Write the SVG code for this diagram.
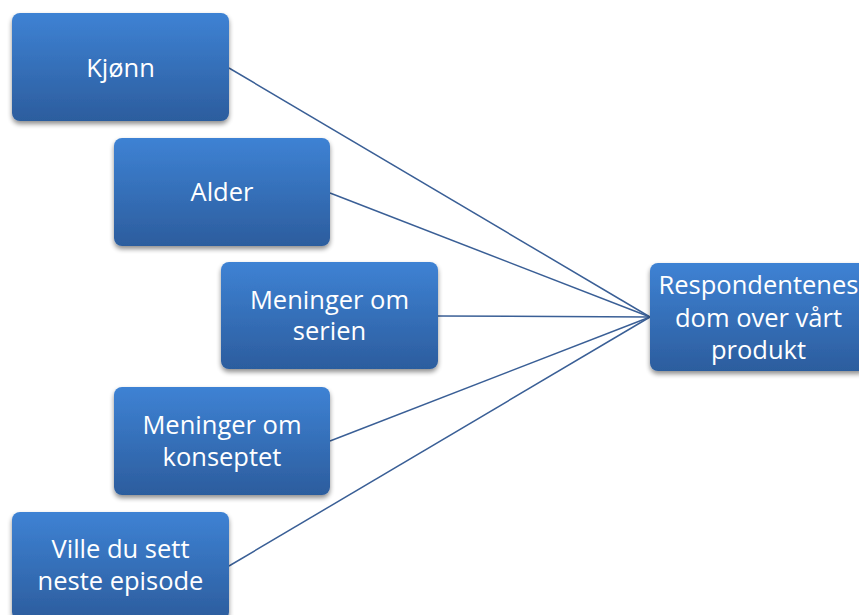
<svg xmlns="http://www.w3.org/2000/svg" width="859" height="615" viewBox="0 0 859 615">
<defs>
<linearGradient id="g" x1="0" y1="0" x2="0" y2="1">
<stop offset="0" stop-color="#3e82d4"/>
<stop offset="1" stop-color="#2c5d9e"/>
</linearGradient>
<filter id="sh" x="-10%" y="-10%" width="125%" height="130%">
<feGaussianBlur in="SourceAlpha" stdDeviation="2.5"/>
<feOffset dx="0" dy="3" result="b"/>
<feComponentTransfer><feFuncA type="linear" slope="0.45"/></feComponentTransfer>
<feMerge><feMergeNode/><feMergeNode in="SourceGraphic"/></feMerge>
</filter>
</defs>
<style>
.box{fill:url(#g);filter:url(#sh);}
.t{font-family:"Open Sans","Noto Sans",sans-serif;font-size:25.5px;fill:#ffffff;text-anchor:middle;}
.c{stroke:#3a5f96;stroke-width:1.5;fill:none;}
</style>
<rect width="859" height="615" fill="#ffffff"/>
<g id="connectors">
<line class="c" x1="229" y1="68" x2="650" y2="317"/>
<line class="c" x1="330" y1="193" x2="650" y2="317"/>
<line class="c" x1="438" y1="316" x2="650" y2="317"/>
<line class="c" x1="330" y1="441" x2="650" y2="317"/>
<line class="c" x1="229" y1="566" x2="650" y2="317"/>
</g>
<g id="kjonn">
<rect class="box" x="12" y="13" width="217" height="108" rx="8"/>
<text class="t" x="120.5" y="77">Kjønn</text>
</g>
<g id="alder">
<rect class="box" x="114" y="138" width="216" height="108" rx="8"/>
<text class="t" x="222" y="201">Alder</text>
</g>
<g id="serien">
<rect class="box" x="221" y="262" width="217" height="107" rx="8"/>
<text class="t" x="329.5" y="309">Meninger om</text>
<text class="t" x="329.5" y="340">serien</text>
</g>
<g id="konseptet">
<rect class="box" x="114" y="387" width="216" height="108" rx="8"/>
<text class="t" x="222" y="434">Meninger om</text>
<text class="t" x="222" y="466">konseptet</text>
</g>
<g id="ville">
<rect class="box" x="12" y="512" width="217" height="108" rx="8"/>
<text class="t" x="120.5" y="558">Ville du sett</text>
<text class="t" x="120.5" y="590">neste episode</text>
</g>
<g id="respondentenes">
<rect class="box" x="650" y="263" width="217" height="108" rx="8"/>
<text class="t" x="758.5" y="294">Respondentenes</text>
<text class="t" x="758.5" y="327">dom over vårt</text>
<text class="t" x="758.5" y="359">produkt</text>
</g>
</svg>
